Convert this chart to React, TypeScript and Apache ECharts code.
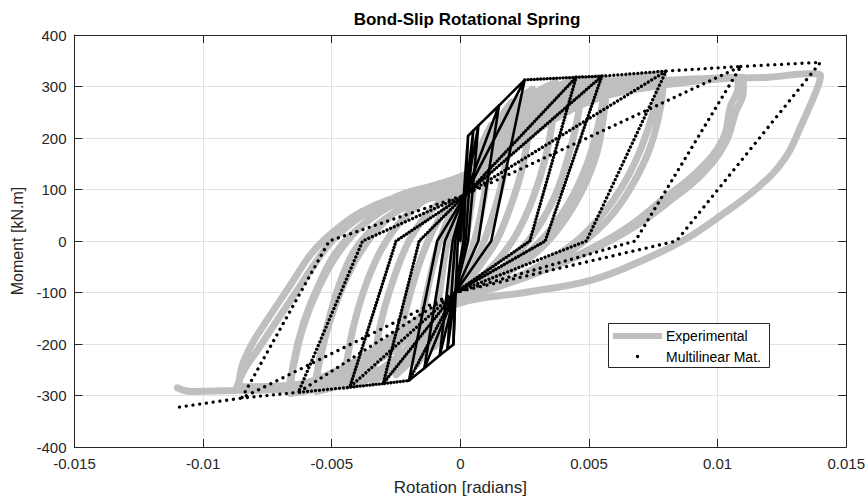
import React, { useEffect, useRef } from "react";
import * as echarts from "echarts";

const FONT = "'Liberation Sans', Arial, Helvetica, sans-serif";
const TITLE = "Bond-Slip Rotational Spring";
const X_NAME = "Rotation [radians]";
const Y_NAME = "Moment [kN.m]";
const X_MIN = -0.015;
const X_MAX = 0.015;
const X_STEP = 0.005;
const Y_MIN = -400;
const Y_MAX = 400;
const Y_STEP = 100;

// Experimental hysteresis, one array per cycle: [rotation, moment]
const exp1 = [[0,0],[0.0001,50],[0.0003,100],[0.0005,140],[0.0006,160],[0.0005,100],[0.0003,30],[0.0001,-30],[-0.0001,-75],[-0.0003,-115],[-0.0005,-150]];
const exp2 = [[-0.0004,-90],[-0.0003,-30],[-0.0001,40],[0.0001,90],[0.0004,140],[0.0008,185],[0.0012,225],[0.0011,160],[0.0009,80],[0.0006,10],[0.0003,-40],[0,-85],[-0.0004,-140],[-0.0007,-175],[-0.0010,-205]];
const exp3 = [[-0.0009,-140],[-0.0007,-60],[-0.0005,0],[-0.0002,55],[0.0001,95],[0.0006,150],[0.0012,205],[0.0017,250],[0.0020,270],[0.0019,200],[0.0016,110],[0.0012,40],[0.0008,-15],[0.0003,-60],[-0.0002,-105],[-0.0008,-160],[-0.0013,-210],[-0.0017,-240]];
const exp4 = [[-0.0016,-180],[-0.0013,-100],[-0.0010,-35],[-0.0007,15],[-0.0003,60],[0.0001,95],[0.0008,160],[0.0015,220],[0.0022,270],[0.0028,295],[0.0027,230],[0.0024,140],[0.0019,60],[0.0014,0],[0.0008,-45],[0.0002,-85],[-0.0004,-125],[-0.0010,-170],[-0.0017,-220],[-0.0025,-260]];
const exp5 = [[-0.0024,-200],[-0.0021,-130],[-0.0017,-60],[-0.0013,-5],[-0.0008,45],[-0.0003,80],[0.0002,105],[0.0010,170],[0.0018,230],[0.0027,280],[0.0037,308],[0.0036,240],[0.0033,160],[0.0028,80],[0.0022,15],[0.0015,-35],[0.0007,-75],[0,-105],[-0.0008,-150],[-0.0016,-200],[-0.0025,-245],[-0.0034,-272]];
const exp6 = [[-0.0033,-215],[-0.0030,-140],[-0.0025,-60],[-0.0020,0],[-0.0014,45],[-0.0007,80],[0,105],[0.0010,170],[0.0020,235],[0.0030,285],[0.0040,305],[0.0047,315],[0.0046,250],[0.0042,165],[0.0037,90],[0.0030,25],[0.0022,-25],[0.0012,-70],[0.0002,-105],[-0.0008,-150],[-0.0018,-205],[-0.0030,-255],[-0.0045,-283]];
const exp7 = [[-0.0044,-230],[-0.0041,-155],[-0.0036,-75],[-0.0030,-10],[-0.0022,45],[-0.0012,85],[0,110],[0.0012,175],[0.0024,245],[0.0036,290],[0.0046,310],[0.0056,318],[0.0055,260],[0.0051,175],[0.0045,100],[0.0037,35],[0.0028,-15],[0.0016,-60],[0.0004,-100],[-0.0008,-145],[-0.0020,-205],[-0.0035,-260],[-0.0056,-292]];
const exp7b = [[-0.0055,-235],[-0.0051,-150],[-0.0046,-70],[-0.0040,-10],[-0.0030,40],[-0.0017,75],[0,100],[0.0012,160],[0.0025,225],[0.0038,275],[0.0048,300],[0.0057,312],[0.0056,255],[0.0053,170],[0.0047,95],[0.0039,30],[0.0030,-20],[0.0018,-62],[0.0005,-100],[-0.0008,-140],[-0.0022,-195],[-0.0038,-250],[-0.0057,-288]];
const exp8 = [[-0.0055,-240],[-0.0051,-160],[-0.0045,-80],[-0.0038,-15],[-0.0028,45],[-0.0015,90],[0,115],[0.0015,185],[0.0030,255],[0.0045,295],[0.0060,312],[0.0078,325],[0.0076,270],[0.0071,190],[0.0064,115],[0.0055,50],[0.0044,-5],[0.0030,-50],[0.0015,-85],[0,-115],[-0.0015,-165],[-0.0030,-225],[-0.0048,-275],[-0.0066,-296]];
const exp8b = [[-0.0065,-240],[-0.0061,-160],[-0.0055,-85],[-0.0048,-20],[-0.0037,35],[-0.0022,80],[-0.0005,105],[0.0012,165],[0.0028,235],[0.0045,285],[0.0062,305],[0.0079,318],[0.0078,265],[0.0074,185],[0.0067,110],[0.0058,45],[0.0047,-5],[0.0033,-50],[0.0017,-85],[0,-112],[-0.0016,-160],[-0.0032,-220],[-0.0050,-270],[-0.0067,-292]];
const exp9 = [[-0.0065,-245],[-0.0061,-165],[-0.0055,-90],[-0.0047,-20],[-0.0036,40],[-0.0022,85],[-0.0008,105],[0.0005,130],[0.0020,190],[0.0035,245],[0.0053,285],[0.0075,305],[0.0095,315],[0.0108,318],[0.0108,300],[0.0105,261],[0.0102,197],[0.0092,134],[0.0079,82],[0.0066,30],[0.0053,-9],[0.0038,-45],[0.0020,-80],[0,-110],[-0.0015,-150],[-0.0030,-205],[-0.0045,-250],[-0.0062,-278],[-0.0086,-283]];
const exp9b = [[-0.0085,-245],[-0.0081,-200],[-0.0074,-145],[-0.0066,-85],[-0.0058,-25],[-0.0050,15],[-0.0039,55],[-0.0025,85],[-0.0010,100],[0.0005,125],[0.0020,180],[0.0036,235],[0.0054,278],[0.0075,300],[0.0095,312],[0.0110,318],[0.0110,290],[0.0107,250],[0.0103,190],[0.0094,130],[0.0082,80],[0.0069,32],[0.0056,-5],[0.0040,-42],[0.0021,-78],[0,-108],[-0.0016,-150],[-0.0032,-207],[-0.0048,-252],[-0.0065,-280],[-0.0087,-285]];
const exp10 = [[-0.0084,-250],[-0.0079,-213],[-0.0072,-160],[-0.0064,-100],[-0.0056,-40],[-0.0049,5],[-0.0038,50],[-0.0024,88],[-0.0011,107],[0,125],[0.0010,150],[0.0020,185],[0.0030,225],[0.0040,258],[0.0050,283],[0.0062,300],[0.0080,312],[0.0100,316],[0.0120,318],[0.0135,325],[0.0140,322],[0.0139,300],[0.0133,230],[0.0126,159],[0.0115,101],[0.0100,45],[0.0088,5],[0.0072,-35],[0.0051,-76],[0.0025,-100],[0,-120],[-0.0015,-160],[-0.0030,-215],[-0.0045,-262],[-0.0060,-287],[-0.0085,-290],[-0.0105,-292],[-0.0110,-285]];

// Multilinear material model, one array per cycle (vertices of the path)
const mod1 = [[0,0],[0.0003,204],[0.00012,0],[-0.0002,-100],[-0.00027,-201],[-0.0001,0],[0.0002,90],[0.0003,204]];
const mod2 = [[0.0003,204],[0.0005,214],[0.0002,0],[-0.0002,-100],[-0.00027,-201],[-0.0005,-210],[-0.0002,0],[0.0002,90],[0.0005,214]];
const mod3 = [[0.0005,214],[0.0007,224],[0.0003,0],[-0.0002,-100],[-0.0005,-210],[-0.0008,-222],[-0.0003,0],[0.0002,90],[0.0007,224]];
const mod4 = [[0.0007,224],[0.0015,263],[0.0007,0],[-0.0002,-100],[-0.0008,-222],[-0.0014,-247],[-0.0006,0],[0.0002,90],[0.0015,263]];
const mod5 = [[0.0015,263],[0.0025,313],[0.0012,0],[-0.0002,-100],[-0.0014,-247],[-0.002,-271],[-0.0009,0],[0.0002,90],[0.0025,313]];
const mod6 = [[0.0025,313],[0.0045,318],[0.0027,0],[-0.0002,-100],[-0.002,-271],[-0.003,-277],[-0.0016,0],[0.0002,90],[0.0045,318]];
const mod7 = [[0.0045,318],[0.0055,320],[0.0033,0],[-0.0002,-100],[-0.003,-277],[-0.0043,-284],[-0.0025,0],[0.0002,90],[0.0055,320]];
const mod8 = [[0.0055,320],[0.008,330],[0.0049,0],[-0.0002,-100],[-0.0043,-284],[-0.0063,-294],[-0.0038,0],[0.0002,90],[0.008,330]];
const mod9 = [[0.008,330],[0.0109,339],[0.0068,0],[-0.0002,-100],[-0.0063,-294],[-0.0085,-305],[-0.0051,0],[0.0002,90],[0.0109,339]];
const mod10 = [[0.0109,339],[0.014,347],[0.0084,0],[-0.0002,-100],[-0.0085,-305],[-0.011,-323]];

const expCycles = [exp1, exp2, exp3, exp4, exp5, exp6, exp7, exp7b, exp8, exp8b, exp9, exp9b, exp10];
const modCycles = [mod1, mod2, mod3, mod4, mod5, mod6, mod7, mod8, mod9, mod10];
// dot gap per model cycle (0 = looks solid)
const modGaps = [0, 0, 0, 0, 0, 3.2, 3.2, 4, 6.5, 6.8];

export default function App() {
  const ref = useRef<HTMLDivElement>(null);
  useEffect(() => {
    if (!ref.current) return;
    const chart = echarts.init(ref.current, null, { renderer: "svg" });
    const expData = ([] as number[][]).concat(...expCycles);
    const series: any[] = [
      {
        name: "Experimental",
        type: "line",
        data: expData,
        showSymbol: false,
        smooth: 0.4,
        lineStyle: { color: "#bfbfbf", width: 7, cap: "round", join: "round" },
        z: 2,
      },
    ];
    modCycles.forEach((c, i) => {
      const gap = modGaps[i];
      series.push({
        name: "Multilinear Mat.",
        type: "line",
        data: c,
        showSymbol: false,
        lineStyle:
          gap === 0
            ? { color: "#000", width: 2.6, join: "round", cap: "round" }
            : { color: "#000", width: 3.3, type: [0.01, gap], cap: "round", join: "round" },
        z: 3,
      });
    });
    const axisCommon = {
      type: "value" as const,
      axisLine: { show: true, onZero: false, lineStyle: { color: "#262626", width: 1 } },
      axisTick: { show: true, inside: true, length: 8, lineStyle: { color: "#262626", width: 1 } },
    };
    const fmt = (v: number) => String(parseFloat(v.toFixed(4)));
    chart.setOption({
      animation: false,
      backgroundColor: "#ffffff",
      title: {
        text: TITLE,
        left: 462,
        top: 6,
        textAlign: "center",
        textStyle: { fontFamily: FONT, fontSize: 17, fontWeight: "bold", color: "#000" },
      },
      grid: { left: 74.5, right: 18, top: 35, bottom: 51, containLabel: false },
      xAxis: [
        {
          ...axisCommon,
          position: "bottom",
          min: X_MIN,
          max: X_MAX,
          interval: X_STEP,
          axisLabel: { fontFamily: FONT, fontSize: 15, color: "#262626", margin: 9, formatter: fmt },
          splitLine: { show: true, lineStyle: { color: "#e2e2e2", width: 1 } },
          name: X_NAME,
          nameLocation: "middle",
          nameGap: 32,
          nameTextStyle: { fontFamily: FONT, fontSize: 17, color: "#262626" },
        },
        {
          ...axisCommon,
          position: "top",
          min: X_MIN,
          max: X_MAX,
          interval: X_STEP,
          axisLabel: { show: false },
          splitLine: { show: false },
        },
      ],
      yAxis: [
        {
          ...axisCommon,
          position: "left",
          min: Y_MIN,
          max: Y_MAX,
          interval: Y_STEP,
          axisLabel: { fontFamily: FONT, fontSize: 15, color: "#262626", margin: 8 },
          splitLine: { show: true, lineStyle: { color: "#e2e2e2", width: 1 } },
          name: Y_NAME,
          nameLocation: "middle",
          nameGap: 42,
          nameTextStyle: { fontFamily: FONT, fontSize: 16, color: "#262626" },
        },
        {
          ...axisCommon,
          position: "right",
          min: Y_MIN,
          max: Y_MAX,
          interval: Y_STEP,
          axisLabel: { show: false },
          splitLine: { show: false },
        },
      ],
      series,
      graphic: [
        {
          type: "rect",
          z: 100,
          shape: { x: 608.5, y: 323.5, width: 161, height: 44 },
          style: { fill: "#ffffff", stroke: "#262626", lineWidth: 1 },
        },
        {
          type: "line",
          z: 101,
          shape: { x1: 613, y1: 336, x2: 662, y2: 336 },
          style: { stroke: "#bfbfbf", lineWidth: 6 },
        },
        {
          type: "circle",
          z: 101,
          shape: { cx: 637.5, cy: 356.5, r: 1.7 },
          style: { fill: "#000" },
        },
        {
          type: "text",
          z: 101,
          style: { text: "Experimental", x: 666, y: 336, fontFamily: FONT, fontSize: 14, fill: "#000", verticalAlign: "middle", align: "left" },
        },
        {
          type: "text",
          z: 101,
          style: { text: "Multilinear Mat.", x: 666, y: 357, fontFamily: FONT, fontSize: 14, fill: "#000", verticalAlign: "middle", align: "left" },
        },
      ],
    });
    return () => chart.dispose();
  }, []);
  return <div ref={ref} style={{ position: "fixed", left: 0, top: 0, width: 868, height: 501 }} />;
}
